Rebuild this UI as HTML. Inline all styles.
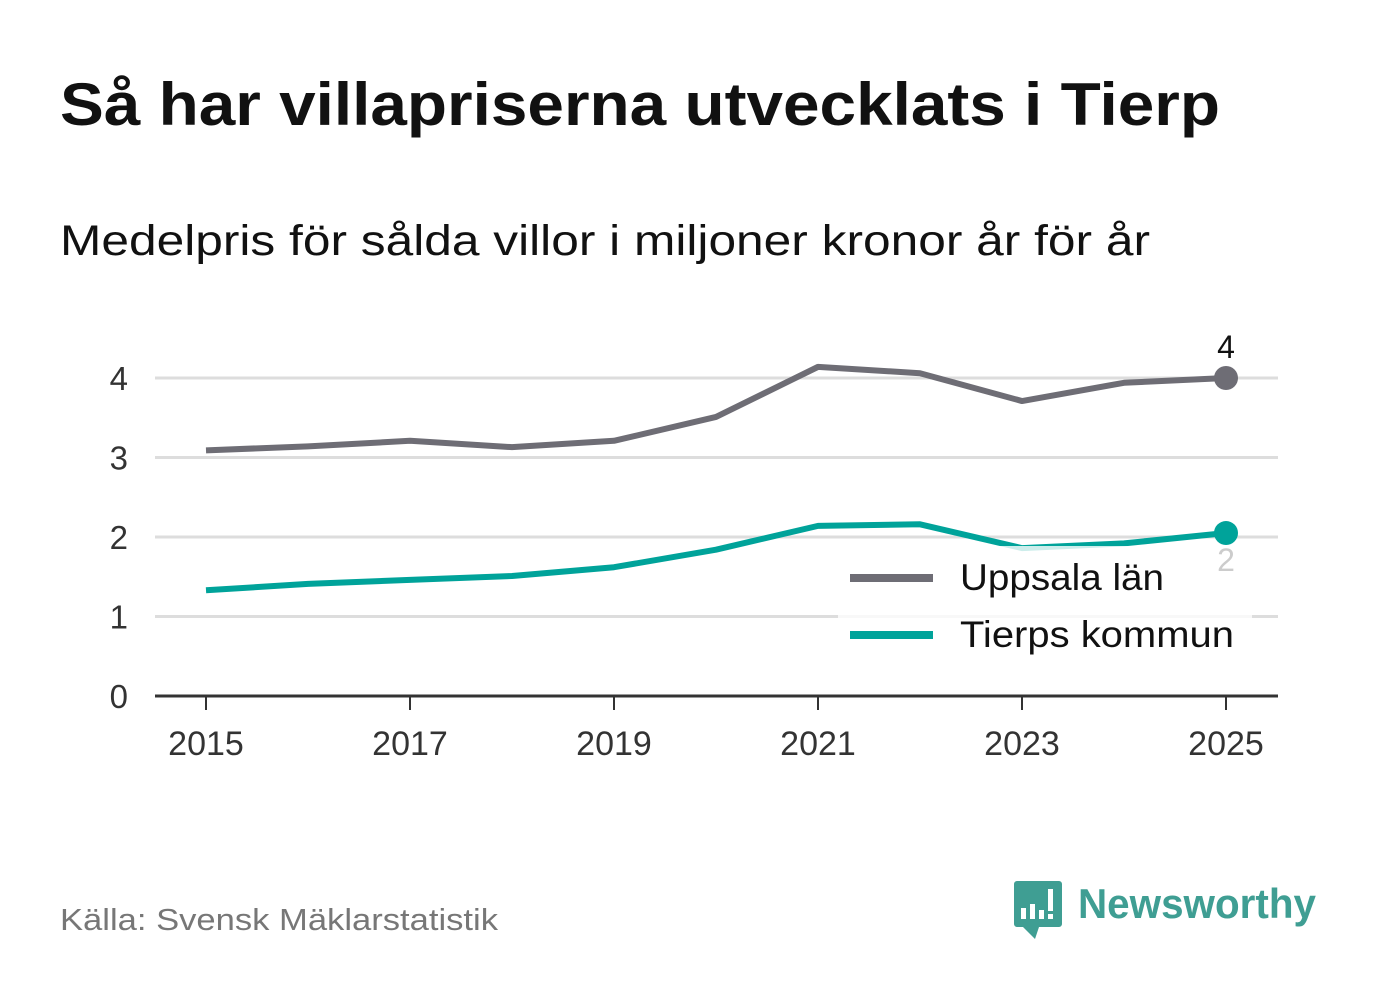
<!DOCTYPE html>
<html><head><meta charset="utf-8"><style>
body{margin:0;background:#fff;width:1382px;height:999px;overflow:hidden;font-family:"Liberation Sans","DejaVu Sans",sans-serif}
</style></head><body>
<svg width="1382" height="999" xmlns="http://www.w3.org/2000/svg">
<text x="60" y="125" font-size="60" font-weight="bold" fill="#111" textLength="1160" lengthAdjust="spacingAndGlyphs">Så har villapriserna utvecklats i Tierp</text>
<text x="60" y="255" font-size="43" fill="#111" textLength="1090" lengthAdjust="spacingAndGlyphs">Medelpris för sålda villor i miljoner kronor år för år</text>
<g id="grid"></g><g id="lines"></g><g id="legend"></g>
<text x="60" y="930" font-size="31" fill="#777" textLength="438" lengthAdjust="spacingAndGlyphs">Källa: Svensk Mäklarstatistik</text>
<g>
<path d="M1017 881h42a3 3 0 0 1 3 3v40a3 3 0 0 1-3 3h-20l-4 12-12-12h-6a3 3 0 0 1-3-3v-40a3 3 0 0 1 3-3z" fill="#3f9e93"/>
<rect x="1021" y="908" width="5" height="11" fill="#fff"/><rect x="1030" y="904" width="5" height="15" fill="#fff"/><rect x="1039" y="910" width="5" height="9" fill="#fff"/><rect x="1048" y="889" width="5" height="22" fill="#fff"/><rect x="1048" y="914" width="5" height="5" fill="#fff"/>
<text x="1078" y="918" font-size="42" font-weight="bold" fill="#3f9e93" textLength="238" lengthAdjust="spacingAndGlyphs">Newsworthy</text>
</g>
</svg>
<script>
const years=[2015,2016,2017,2018,2019,2020,2021,2022,2023,2024,2025];
const uppsala=[3.09,3.14,3.21,3.13,3.21,3.51,4.14,4.06,3.71,3.94,4.0];
const tierp=[1.33,1.41,1.46,1.51,1.62,1.84,2.14,2.16,1.86,1.92,2.05];
const yTicks=[0,1,2,3,4];
const xTicks=[2015,2017,2019,2021,2023,2025];
const NS="http://www.w3.org/2000/svg";
const X=v=>206+(v-2015)*102, Y=v=>696-v*79.5;
function mk(t,a,p){const e=document.createElementNS(NS,t);for(const k in a)e.setAttribute(k,a[k]);p.appendChild(e);return e;}
const g=document.getElementById('grid');
yTicks.forEach(t=>{
 const l=mk('line',{x1:155,x2:1278,y1:Y(t),y2:Y(t),stroke:t?'#ddd':'#333','stroke-width':3},g);
 
 
 const tx=mk('text',{x:128,y:Y(t)+12,'font-size':33,fill:'#333','text-anchor':'end'},g);tx.textContent=t;
 
 
});
xTicks.forEach(t=>{
 mk('line',{x1:X(t),x2:X(t),y1:696,y2:710,stroke:'#333','stroke-width':2},g);
 const tx=mk('text',{x:X(t),y:755,'font-size':34,fill:'#333','text-anchor':'middle'},g);tx.textContent=t;
 
 
});
const L=document.getElementById('lines');
function series(vals,col,name){
 const p=mk('polyline',{points:vals.map((v,i)=>X(years[i])+','+Y(v)).join(' '),fill:'none',stroke:col,'stroke-width':6,'stroke-linejoin':'round'},L);
 
 
 const n=vals.length-1;
 const c=mk('circle',{cx:X(years[n]),cy:Y(vals[n]),r:12,fill:col},L);
 
 
}
series(uppsala,'#6e6d75','uppsala');
series(tierp,'#00a39a','tierp');
const lg=document.getElementById('legend');
mk('rect',{x:838,y:546,width:414,height:114,fill:'#fff','fill-opacity':0.8},lg);
let t1=mk('text',{x:X(2025),y:Y(uppsala[10])-20,'font-size':32,fill:'#111','text-anchor':'middle'},lg);t1.textContent=Math.round(uppsala[10]);


let t2=mk('text',{x:X(2025),y:Y(tierp[10])+38,'font-size':32,fill:'#ccc','text-anchor':'middle'},lg);t2.textContent=Math.round(tierp[10]);


[['Uppsala län','#6e6d75',577,204],['Tierps kommun','#00a39a',634,274]].forEach(([n,c,y,w])=>{
 const r=mk('rect',{x:850,y:y-3,width:83,height:8,fill:c},lg);
 
 
 const t=mk('text',{x:960,y:y+13,'font-size':37,fill:'#111',textLength:w,lengthAdjust:'spacingAndGlyphs'},lg);t.textContent=n;
 
 
});
</script>
</body></html>
